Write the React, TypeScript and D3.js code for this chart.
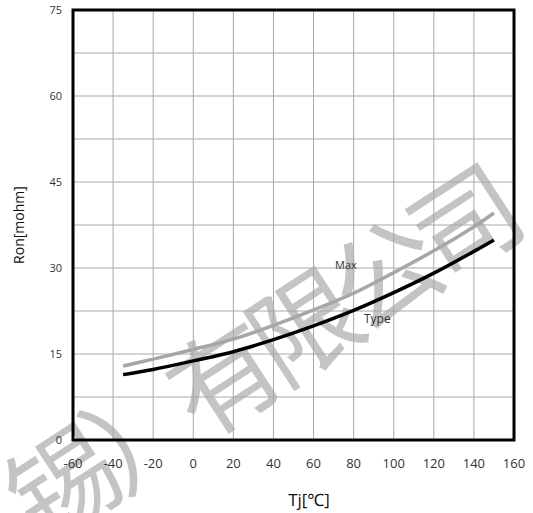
import { useEffect, useRef } from "react";
import * as d3 from "d3";

// Tj [°C]
const temps = [-35, -20, 0, 20, 40, 60, 80, 100, 120, 140, 150];
// Ron [mohm]
const typeValues = [11.4, 12.3, 13.8, 15.4, 17.5, 19.9, 22.6, 25.7, 29.1, 32.9, 34.9];
const maxValues = [12.9, 14.1, 15.8, 17.6, 20.0, 22.7, 25.6, 29.2, 33.0, 37.2, 39.6];

const xTicks = [-60, -40, -20, 0, 20, 40, 60, 80, 100, 120, 140, 160];
const yTicks = [0, 15, 30, 45, 60, 75];
const yGrid = [7.5, 22.5, 37.5, 52.5, 67.5];

const watermark = "锡）有限公司";

export default function App() {
  const svgRef = useRef<SVGSVGElement>(null);

  useEffect(() => {
    const svg = d3.select(svgRef.current);
    svg.selectAll("*").remove();

    const width = 533;
    const height = 513;
    const margin = { top: 10, right: 19, bottom: 73, left: 73 };
    const font = "'Open Sans', 'Noto Sans', sans-serif";

    const x = d3.scaleLinear().domain([-60, 160]).range([margin.left, width - margin.right]);
    const y = d3.scaleLinear().domain([0, 75]).range([height - margin.bottom, margin.top]);

    svg.append("rect").attr("width", width).attr("height", height).attr("fill", "#fff");

    // watermark behind everything
    svg
      .append("text")
      .attr("transform", "translate(256,350) rotate(-33)")
      .attr("text-anchor", "middle")
      .attr("dominant-baseline", "central")
      .attr("font-family", "'Noto Sans CJK SC', sans-serif")
      .attr("font-size", 108)
      .attr("font-weight", 400)
      .attr("letter-spacing", -12)
      .attr("fill", "#c4c4c4")
      .text(watermark);

    // grid
    const grid = svg.append("g").attr("stroke", "#a8a8a8").attr("stroke-width", 1);
    grid
      .selectAll("line.v")
      .data(xTicks)
      .enter()
      .append("line")
      .attr("x1", (d) => x(d))
      .attr("x2", (d) => x(d))
      .attr("y1", y(0))
      .attr("y2", y(75));
    grid
      .selectAll("line.h")
      .data([...yTicks, ...yGrid])
      .enter()
      .append("line")
      .attr("x1", x(-60))
      .attr("x2", x(160))
      .attr("y1", (d) => y(d))
      .attr("y2", (d) => y(d));

    // curves
    const line = d3
      .line<number>()
      .x((_, i) => x(temps[i]))
      .y((d) => y(d))
      .curve(d3.curveCatmullRom);

    svg
      .append("path")
      .datum(maxValues)
      .attr("d", line)
      .attr("fill", "none")
      .attr("stroke", "#a6a6a6")
      .attr("stroke-width", 3.5);

    svg
      .append("path")
      .datum(typeValues)
      .attr("d", line)
      .attr("fill", "none")
      .attr("stroke", "#000")
      .attr("stroke-width", 3.5);

    // frame
    svg
      .append("rect")
      .attr("x", x(-60))
      .attr("y", y(75))
      .attr("width", x(160) - x(-60))
      .attr("height", y(0) - y(75))
      .attr("fill", "none")
      .attr("stroke", "#000")
      .attr("stroke-width", 3);

    // tick labels
    svg
      .append("g")
      .selectAll("text")
      .data(yTicks)
      .enter()
      .append("text")
      .attr("x", margin.left - 11)
      .attr("y", (d) => y(d))
      .attr("dy", "0.35em")
      .attr("text-anchor", "end")
      .attr("font-family", font)
      .attr("font-size", 11)
      .attr("fill", "#333")
      .text((d) => d);

    svg
      .append("g")
      .selectAll("text")
      .data(xTicks)
      .enter()
      .append("text")
      .attr("x", (d) => x(d))
      .attr("y", 463)
      .attr("dy", "0.35em")
      .attr("text-anchor", "middle")
      .attr("font-family", font)
      .attr("font-size", 13)
      .attr("fill", "#333")
      .text((d) => d);

    // axis titles
    svg
      .append("text")
      .attr("transform", "translate(20,225) rotate(-90)")
      .attr("text-anchor", "middle")
      .attr("dominant-baseline", "middle")
      .attr("font-family", font)
      .attr("font-size", 14)
      .attr("fill", "#111")
      .text("Ron[mohm]");

    svg
      .append("text")
      .attr("x", 309)
      .attr("y", 506)
      .attr("text-anchor", "middle")
      .attr("font-family", font)
      .attr("font-size", 17)
      .attr("fill", "#111")
      .text("Tj[℃]");

    // series labels
    svg
      .append("text")
      .attr("x", 335)
      .attr("y", 269)
      .attr("font-family", font)
      .attr("font-size", 11)
      .attr("fill", "#333")
      .text("Max");

    svg
      .append("text")
      .attr("x", 364)
      .attr("y", 323)
      .attr("font-family", font)
      .attr("font-size", 12)
      .attr("fill", "#333")
      .text("Type");
  }, []);

  return (
    <div style={{ position: "absolute", left: 0, top: 0 }}>
      <svg ref={svgRef} width={533} height={513} style={{ display: "block" }} />
    </div>
  );
}
